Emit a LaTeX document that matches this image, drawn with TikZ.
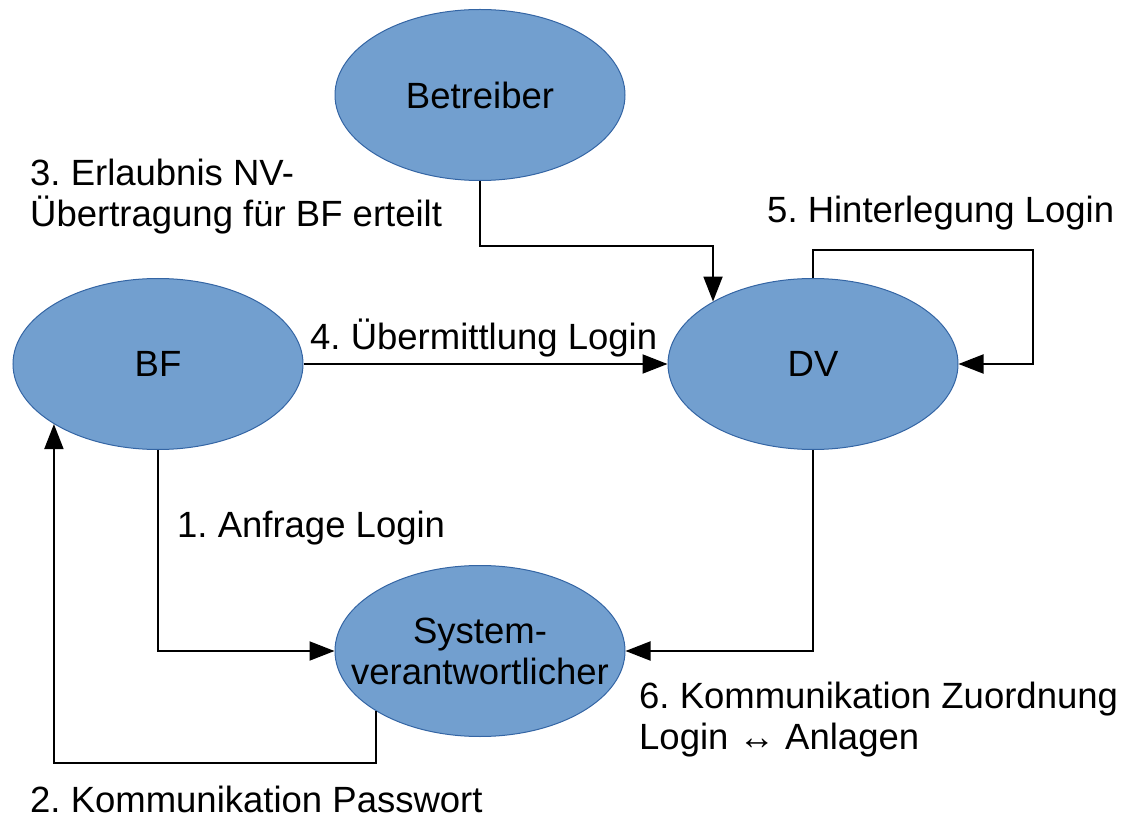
\documentclass[tikz,border=0pt]{standalone}
\usepackage{fontspec}
\setmainfont{Liberation Sans}
\usetikzlibrary{shapes.geometric,arrows.meta}
\definecolor{ellfill}{HTML}{729FCF}
\definecolor{elldraw}{HTML}{3465A4}
\frenchspacing
\begin{document}
\begin{tikzpicture}[x=1pt,y=-1pt,
  every node/.style={font=\fontsize{36.5}{41}\selectfont},
  ell/.style={ellipse,fill=ellfill,draw=elldraw,line width=1pt,minimum width=290pt,minimum height=171pt,inner sep=0pt},
  conn/.style={line width=2pt,-{Triangle[length=25pt,width=19pt]}},
  lbl/.style={inner sep=0pt}]
\useasboundingbox (0,0) rectangle (1128,818);
% nodes
\node[ell,label={center:Betreiber}] (Bet) at (480,95) {};
\node[ell,label={center:BF}] (BF) at (158,364) {};
\node[ell,label={center:DV}] (DV) at (813,364) {};
\node[ell,label={[align=center]center:{System-\\verantwortlicher}}] (Sys) at (480,651) {};
% connectors
\draw[conn] (Bet.south) -- ++(0,65) -| (DV.148.4);
\draw[conn] (BF.east) -- (DV.west);
\coordinate (loopc) at (1033,250);
\draw[conn] (DV.north) |- (loopc) |- (DV.east);
\draw[conn] (BF.south) |- (Sys.west);
\draw[conn] (Sys.210.9) -- ++(0,52) -| (BF.210.6);
\draw[conn] (DV.south) |- (Sys.east);
% labels
\node[lbl,anchor=north west,align=left] (l3) at (30,158.5) {3. Erlaubnis NV-\\Übertragung für BF erteilt};
\node[lbl,anchor=base west] (l5) at (767,223) {5. Hinterlegung Login};
\node[lbl,anchor=base west] (l4) at (310,350) {4. Übermittlung Login};
\node[lbl,anchor=base west] (l1) at (177,537) {1. Anfrage Login};
\node[lbl,anchor=base west] (l2) at (30,812) {2. Kommunikation Passwort};
\node[lbl,anchor=north west,align=left] (l6) at (639,681.5) {6. Kommunikation Zuordnung\\Login ↔ Anlagen};
\end{tikzpicture}
\end{document}
